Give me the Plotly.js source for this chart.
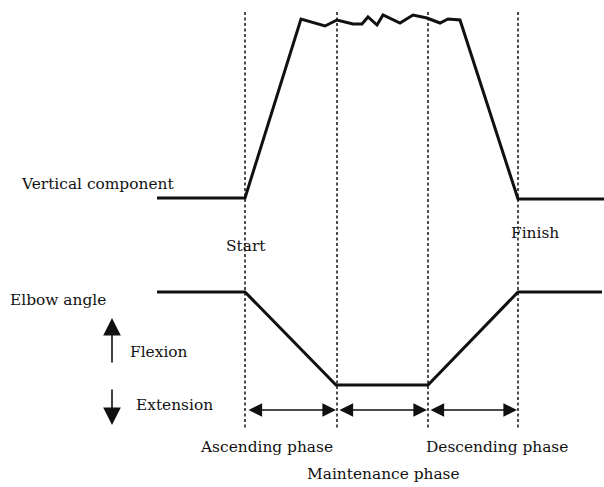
<!DOCTYPE html>
<html>
<head>
<meta charset="utf-8">
<script src="https://cdn.plot.ly/plotly-3.0.1.min.js"></script>
<style>html,body{margin:0;padding:0;background:#fff;}#chart{width:604px;height:487px;}</style>
</head>
<body>
<div id="chart"></div>
<script>
// Vertical component trace (schematic)
var verticalX = [157, 245, 301, 325, 337, 353, 362, 368, 377, 383, 400, 413, 427, 440, 448, 460, 518, 604];
var verticalY = [198, 198, 19, 26, 20, 24, 24, 17, 25, 15, 23, 15, 18, 23, 19, 20, 199, 199];
// Elbow angle trace (schematic)
var elbowX = [157, 245, 336, 428, 518, 602];
var elbowY = [292, 292, 385, 385, 292, 292];
// Phase boundaries (Start, end of ascending, end of maintenance, Finish)
var boundaries = [245, 337, 428, 518];
var boundaryTop = 12;
var boundaryBottom = 430;
// Phase labels
var phaseLabels = ["Ascending phase", "Maintenance phase", "Descending phase"];

var dashX = [], dashY = [];
boundaries.forEach(function (b) { dashX.push(b, b, null); dashY.push(boundaryTop, boundaryBottom, null); });

var traces = [
  {x: dashX, y: dashY, mode: 'lines', line: {color: '#222', width: 1.6, dash: '3px,2.5px'}, hoverinfo: 'skip'},
  {x: verticalX, y: verticalY, mode: 'lines', line: {color: '#111', width: 3}, hoverinfo: 'skip'},
  {x: elbowX, y: elbowY, mode: 'lines', line: {color: '#111', width: 3}, hoverinfo: 'skip'}
];

var font = {family: 'DejaVu Serif, Liberation Serif, serif', size: 15.4, color: '#111'};
function txt(text, x, y, xanchor) {
  return {text: text, x: x, y: y, xref: 'x', yref: 'y', showarrow: false, xanchor: xanchor || 'center', yanchor: 'middle', font: font};
}
function arr(x0, y0, x1, y1, side, size) {
  return {x: x1, y: y1, ax: x0, ay: y0, xref: 'x', yref: 'y', axref: 'x', ayref: 'y', text: '', showarrow: true,
    arrowhead: 2, arrowsize: size, arrowwidth: 1.6, arrowcolor: '#111', arrowside: side || 'end',
    standoff: 0, startstandoff: 0, startarrowhead: 2, startarrowsize: size};
}

var arrowY = 410;
var annotations = [
  txt('Vertical component', 19, 184, 'left'),
  txt('Start', 246, 246),
  txt('Finish', 535, 233),
  txt('Elbow angle', 8, 300, 'left'),
  txt('Flexion', 128, 352, 'left'),
  txt('Extension', 134, 405, 'left'),
  txt(phaseLabels[0], 266, 447),
  txt(phaseLabels[1], 383, 474),
  txt(phaseLabels[2], 497, 447),
  arr(112, 364, 112, 318, 'end', 2.2),
  arr(112, 388, 112, 425, 'end', 2.2),
  arr(boundaries[0] + 2, arrowY, boundaries[1] - 1, arrowY, 'end+start', 1.7),
  arr(boundaries[1] + 1, arrowY, boundaries[2] - 1, arrowY, 'end+start', 1.7),
  arr(boundaries[2] + 1, arrowY, boundaries[3] - 1, arrowY, 'end+start', 1.7)
];

var layout = {
  width: 604, height: 487,
  margin: {l: 0, r: 0, t: 0, b: 0},
  paper_bgcolor: '#fff', plot_bgcolor: '#fff',
  showlegend: false,
  xaxis: {range: [0, 604], visible: false, fixedrange: true},
  yaxis: {range: [487, 0], visible: false, fixedrange: true},
  annotations: annotations
};
Plotly.newPlot('chart', traces, layout, {staticPlot: true, displayModeBar: false});
</script>
</body>
</html>
